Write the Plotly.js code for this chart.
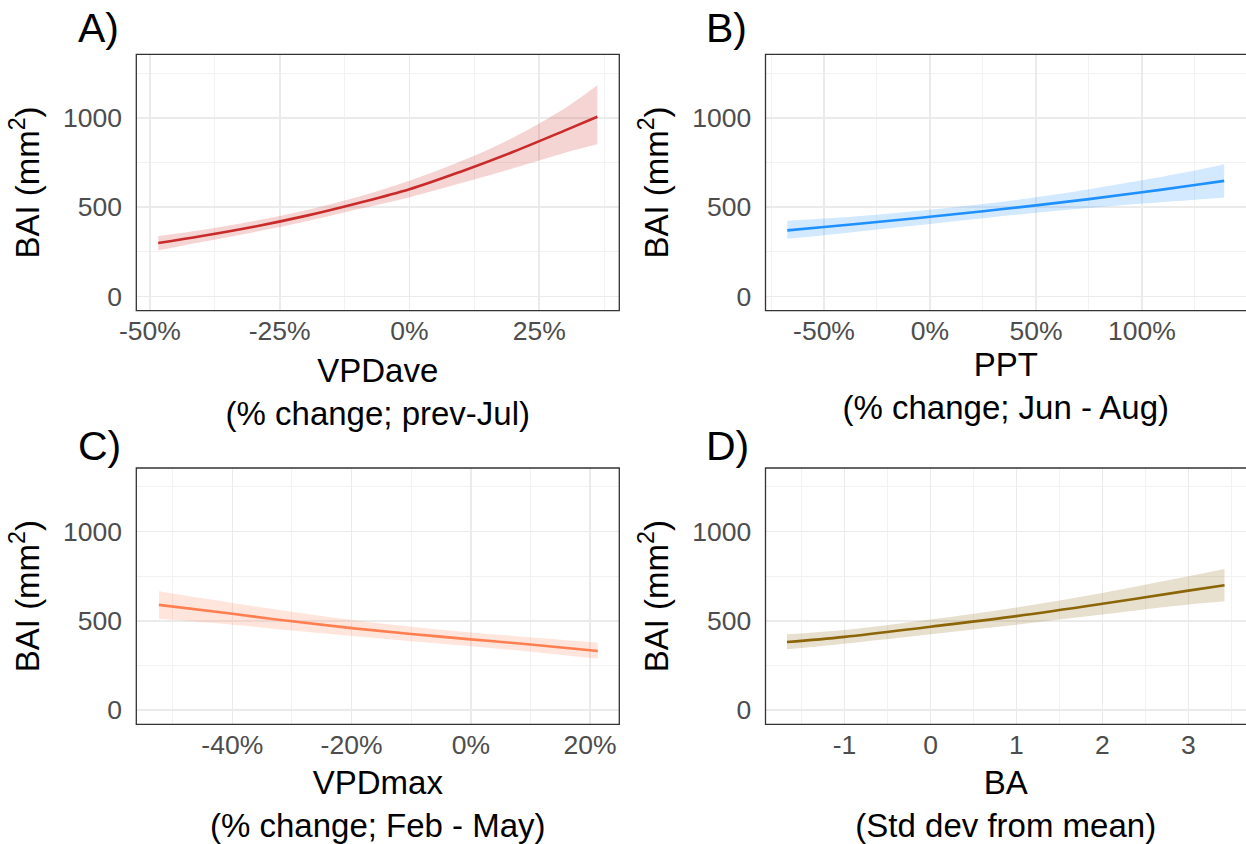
<!DOCTYPE html>
<html><head><meta charset="utf-8">
<script src="https://cdn.plot.ly/plotly-3.0.1.min.js"></script>
<style>html,body{margin:0;padding:0;background:#fff;overflow:hidden}#chart{width:1246px;height:844px}</style>
</head><body><div id="chart"></div>
<script>
// ---- Panel A: VPDave ----
const xA     = [-48.4, -40, -30, -20, -10, 0, 10, 20, 30, 36.2];
const meanA  = [299, 338, 390, 451, 522, 600, 700, 810, 930, 1006];
const upperA = [338, 372, 422, 483, 557, 648, 758, 890, 1055, 1182];
const lowerA = [258, 305, 360, 420, 488, 556, 635, 718, 805, 852];

// ---- Panel B: PPT ----
const xB     = [-67.3, -50, -25, 0, 25, 50, 75, 100, 125, 138.8];
const meanB  = [370, 389, 417, 446, 477, 510, 545, 583, 624, 647];
const upperB = [424, 436, 458, 486, 517, 555, 600, 650, 705, 740];
const lowerB = [323, 343, 375, 406, 438, 468, 495, 520, 542, 554];

// ---- Panel C: VPDmax ----
const xC     = [-52.3, -40, -30, -20, -10, 0, 10, 21.3];
const meanC  = [589, 539, 497, 459, 426, 396, 367, 331];
const upperC = [665, 600, 550, 505, 467, 435, 408, 377];
const lowerC = [511, 478, 445, 415, 386, 357, 327, 288];

// ---- Panel D: BA ----
const xD     = [-1.67, -1, 0, 1, 2, 3, 3.42];
const meanD  = [381, 410, 467, 526, 595, 669, 699];
const upperD = [424, 448, 507, 574, 656, 749, 790];
const lowerD = [340, 372, 425, 478, 535, 591, 610];

// ---- tick labels ----
const xTickValsA = [-50, -25, 0, 25];   const xTickTextA = ['-50%', '-25%', '0%', '25%'];
const xTickValsB = [-50, 0, 50, 100];   const xTickTextB = ['-50%', '0%', '50%', '100%'];
const xTickValsC = [-40, -20, 0, 20];   const xTickTextC = ['-40%', '-20%', '0%', '20%'];
const xTickValsD = [-1, 0, 1, 2, 3];    const xTickTextD = ['-1', '0', '1', '2', '3'];
const yTickVals  = [0, 500, 1000];      const yTickText  = ['0', '500', '1000'];

const xTitles = ['VPDave<br>(% change; prev-Jul)', 'PPT<br>(% change; Jun - Aug)',
                 'VPDmax<br>(% change; Feb - May)', 'BA<br>(Std dev from mean)'];
const yTitle = 'BAI (mm<sup>2</sup>)';
const panelLabels = ['A)', 'B)', 'C)', 'D)'];

const F = '"Liberation Sans", Arial, Helvetica, sans-serif';
const W = 1246, H = 844;

const panels = [
  {x: xA, m: meanA, u: upperA, l: lowerA, line: '#C92A2A', fill: 'rgba(205,38,38,0.2)'},
  {x: xB, m: meanB, u: upperB, l: lowerB, line: '#1E90FF', fill: 'rgba(30,144,255,0.2)'},
  {x: xC, m: meanC, u: upperC, l: lowerC, line: '#FF7F50', fill: 'rgba(255,127,80,0.2)'},
  {x: xD, m: meanD, u: upperD, l: lowerD, line: '#8B6508', fill: 'rgba(139,101,8,0.2)'}
];

const traces = [];
panels.forEach((p, i) => {
  const xa = i === 0 ? 'x' : 'x' + (i + 1);
  const ya = i === 0 ? 'y' : 'y' + (i + 1);
  traces.push({x: p.x, y: p.l, xaxis: xa, yaxis: ya, type: 'scatter', mode: 'lines',
    line: {width: 0, shape: 'spline', color: p.fill}, showlegend: false, hoverinfo: 'skip'});
  traces.push({x: p.x, y: p.u, xaxis: xa, yaxis: ya, type: 'scatter', mode: 'lines',
    line: {width: 0, shape: 'spline', color: p.fill}, fill: 'tonexty', fillcolor: p.fill,
    showlegend: false, hoverinfo: 'skip'});
  traces.push({x: p.x, y: p.m, xaxis: xa, yaxis: ya, type: 'scatter', mode: 'lines',
    line: {width: 2.6, shape: 'spline', color: p.line}, showlegend: false});
});

function px(a) { return a / W; }
function py(b) { return 1 - b / H; }

function xax(dom, range, tv, tt, minorD, title, standoff, anchor) {
  return {
    domain: dom, range: range, anchor: anchor,
    tickmode: 'array', tickvals: tv, ticktext: tt,
    showgrid: true, gridcolor: '#EBEBEB', gridwidth: 1.6,
    zeroline: false, showline: false,
    ticks: '', ticklabelstandoff: 2,
    tickfont: {family: F, size: 26.5, color: '#4D4D4D'},
    minor: {showgrid: true, gridcolor: '#F2F2F2', gridwidth: 1, tickmode: 'linear', tick0: 0, dtick: minorD},
    title: {text: title, font: {family: F, size: 33, color: '#000'}, standoff: standoff}
  };
}
function yax(dom, anchor) {
  return {
    domain: dom, range: [-80, 1356], anchor: anchor,
    tickmode: 'array', tickvals: yTickVals, ticktext: yTickText,
    showgrid: true, gridcolor: '#EBEBEB', gridwidth: 1.6,
    zeroline: false, showline: false,
    ticks: 'outside', ticklen: 8, tickcolor: 'rgba(0,0,0,0)',
    tickfont: {family: F, size: 26.5, color: '#4D4D4D'},
    minor: {showgrid: true, gridcolor: '#F2F2F2', gridwidth: 1, tickmode: 'linear', tick0: 0, dtick: 250},
    title: {text: yTitle, font: {family: F, size: 33, color: '#000'}, standoff: 13}
  };
}

const topRow = [py(310.7), py(54.3)];
const botRow = [py(724.3), py(468)];
const leftCol = [px(136.3), px(619.3)];
const rightCol = [px(765.5), 1];

const layout = {
  width: W, height: H,
  margin: {l: 0, r: 0, t: 0, b: 0},
  paper_bgcolor: '#fff', plot_bgcolor: '#fff',
  showlegend: false,
  xaxis:  xax(leftCol,  [-52.63, 40.43], xTickValsA, xTickTextA, 12.5, xTitles[0], 13, 'y'),
  yaxis:  yax(topRow, 'x'),
  xaxis2: xax(rightCol, [-77.6, 149.1], xTickValsB, xTickTextB, 25, xTitles[1], 5, 'y2'),
  yaxis2: yax(topRow, 'x2'),
  xaxis3: xax(leftCol,  [-56.1, 24.9], xTickValsC, xTickTextC, 10, xTitles[2], 20, 'y3'),
  yaxis3: yax(botRow, 'x3'),
  xaxis4: xax(rightCol, [-1.92, 3.67], xTickValsD, xTickTextD, 0.5, xTitles[3], 23, 'y4'),
  yaxis4: yax(botRow, 'x4'),
  shapes: [
    {type: 'rect', xref: 'x domain', yref: 'y domain', x0: 0, x1: 1, y0: 0, y1: 1, line: {color: '#333', width: 1.3}, layer: 'above'},
    {type: 'rect', xref: 'x2 domain', yref: 'y2 domain', x0: 0, x1: 1.02, y0: 0, y1: 1, line: {color: '#333', width: 1.3}, layer: 'above'},
    {type: 'rect', xref: 'x3 domain', yref: 'y3 domain', x0: 0, x1: 1, y0: 0, y1: 1, line: {color: '#333', width: 1.3}, layer: 'above'},
    {type: 'rect', xref: 'x4 domain', yref: 'y4 domain', x0: 0, x1: 1.02, y0: 0, y1: 1, line: {color: '#333', width: 1.3}, layer: 'above'}
  ],
  annotations: [
    {text: panelLabels[0], x: px(76), y: py(28), xref: 'paper', yref: 'paper', xanchor: 'left', yanchor: 'middle', showarrow: false, font: {family: F, size: 41, color: '#000'}},
    {text: panelLabels[1], x: px(704), y: py(28), xref: 'paper', yref: 'paper', xanchor: 'left', yanchor: 'middle', showarrow: false, font: {family: F, size: 41, color: '#000'}},
    {text: panelLabels[2], x: px(76), y: py(446), xref: 'paper', yref: 'paper', xanchor: 'left', yanchor: 'middle', showarrow: false, font: {family: F, size: 41, color: '#000'}},
    {text: panelLabels[3], x: px(704), y: py(446), xref: 'paper', yref: 'paper', xanchor: 'left', yanchor: 'middle', showarrow: false, font: {family: F, size: 41, color: '#000'}}
  ]
};

Plotly.newPlot('chart', traces, layout, {displayModeBar: false, staticPlot: true});
</script>
</body></html>
